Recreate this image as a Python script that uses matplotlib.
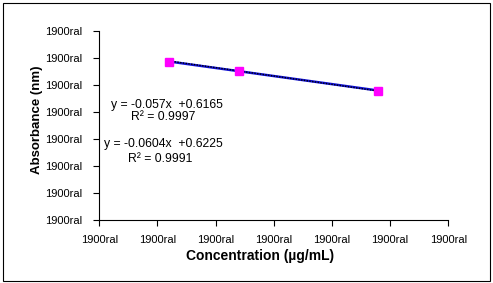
import numpy as np
import matplotlib

matplotlib.use("Agg")
import matplotlib.pyplot as plt
from matplotlib.patches import Rectangle

# calibration data
conc = [1.2, 2.4, 4.8]
absorb_a = [0.585, 0.552, 0.478]
absorb_b = [0.588, 0.551, 0.477]

x_ticks = [0, 1, 2, 3, 4, 5, 6]
y_ticks = [0.0, 0.1, 0.2, 0.3, 0.4, 0.5, 0.6, 0.7]
x_tick_labels = ["1900ral"] * len(x_ticks)
y_tick_labels = ["1900ral"] * len(y_ticks)

eq_lines = ["y = -0.057x  +0.6165", "y = -0.0604x  +0.6225"]
r2_lines = ["R² = 0.9997", "R² = 0.9991"]

plt.rcParams["font.family"] = ["Liberation Sans", "DejaVu Sans"]

fig = plt.figure(figsize=(4.93, 2.83), dpi=100)
ax = fig.add_axes([0.2014, 0.2226, 0.9093 - 0.2014, 0.8915 - 0.2226])

# trendlines from the two series
x = np.array(conc)
fit_a = np.polyfit(x, absorb_a, 1)
fit_b = np.polyfit(x, absorb_b, 1)
ax.plot(x, np.polyval(fit_a, x), color="#1010d8", lw=1.8, solid_capstyle="butt", zorder=2)
ax.plot(x, np.polyval(fit_b, x), color="black", lw=1.0, ls=(0, (1, 1)), zorder=3)
ax.plot(conc, absorb_a, ls="none", marker="s", ms=5.5, color="#ff00ff", mec="#ff00ff", zorder=4)

ax.set_xlim(x_ticks[0], x_ticks[-1])
ax.set_ylim(y_ticks[0], y_ticks[-1])
ax.set_xticks(x_ticks)
ax.set_yticks(y_ticks)
ax.set_xticklabels(x_tick_labels, fontsize=8)
ax.set_yticklabels(y_tick_labels, fontsize=8)
ax.tick_params(axis="both", direction="out", length=4, width=0.8, colors="black")
ax.tick_params(axis="x", pad=7)
ax.tick_params(axis="y", pad=8)
for side in ("top", "right"):
    ax.spines[side].set_visible(False)
for side in ("left", "bottom"):
    ax.spines[side].set_linewidth(0.8)

# regression equations
W, H = 493, 283
eq_pos = [(167, 105), (163, 143.5)]
r2_pos = [(163, 116.5), (160, 159)]
for (ex, ey), (rx, ry), eq, r2 in zip(eq_pos, r2_pos, eq_lines, r2_lines):
    fig.text(ex / W, 1 - ey / H, eq, fontsize=8.8, ha="center", va="center")
    fig.text(rx / W, 1 - ry / H, r2, fontsize=8.8, ha="center", va="center")

fig.text(260 / W, 1 - 256 / H, "Concentration (µg/mL)", fontsize=10, fontweight="bold",
         ha="center", va="center")
fig.text(37 / W, 1 - 120 / H, "Absorbance (nm)", fontsize=9.5, fontweight="bold",
         rotation=90, ha="center", va="center")

# chart area border
fig.patches.append(Rectangle((3 / W, 2 / H), 487 / W, 278 / H, transform=fig.transFigure,
                             fill=False, edgecolor="black", lw=0.8))

fig.savefig("out.png", dpi=100)
